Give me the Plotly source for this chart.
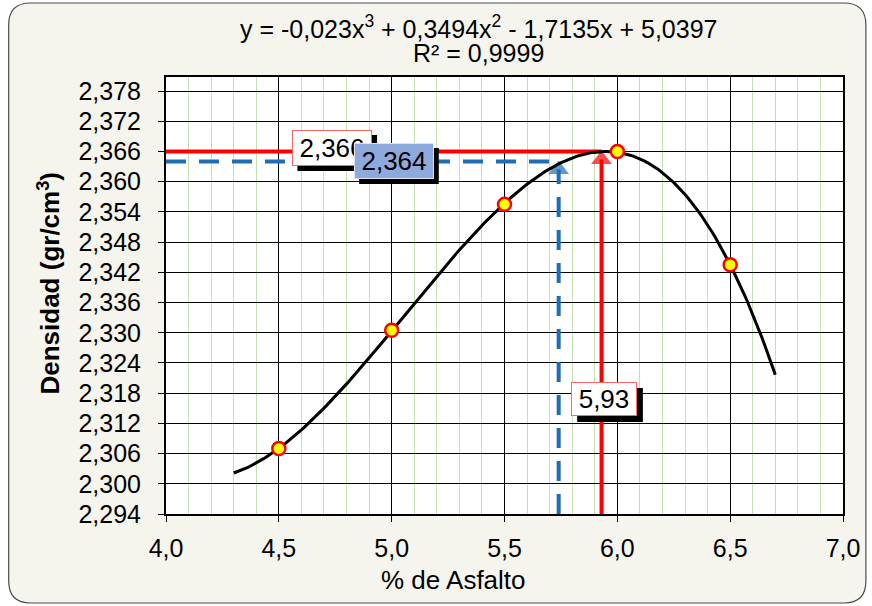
import numpy as np
import plotly.graph_objects as go

# Ensayo Marshall: densidad vs contenido de asfalto
asfalto = [4.5, 5.0, 5.5, 6.0, 6.5]
densidad = [2.307, 2.3305, 2.3555, 2.366, 2.3435]

asfalto_optimo = 5.93      # % de asfalto a densidad máxima
densidad_max = 2.366       # densidad máxima
densidad_ref = 2.364       # densidad de referencia
asfalto_ref = 5.74         # % de asfalto correspondiente

x_ticks = [4.0, 4.5, 5.0, 5.5, 6.0, 6.5, 7.0]
y_ticks = [2.294, 2.300, 2.306, 2.312, 2.318, 2.324, 2.330, 2.336,
           2.342, 2.348, 2.354, 2.360, 2.366, 2.372, 2.378]

X_MIN, X_MAX = 4.0, 7.0
Y_MIN, Y_MAX = 2.294, 2.3808

W, H = 872, 606
ML, MR, MT, MB = 166, 26, 77, 92
PW, PH = W - ML - MR, H - MT - MB


def px(xp):
    return (xp - ML) / PW


def py(yp):
    return (H - MB - yp) / PH


def coma(v, d):
    return f"{v:.{d}f}".replace(".", ",")


# Línea de tendencia polinómica de grado 3
coef = np.polyfit(asfalto, densidad, 3)
xt = np.linspace(4.3, 6.7, 200)
yt = np.polyval(coef, xt)

RED = "#FF0000"
BLUE = "#1F6DB5"
FONT = "Liberation Sans, Arial, sans-serif"
FS = 25

fig = go.Figure()

# Guías horizontales: roja (densidad máxima) y azul (referencia)
fig.add_trace(go.Scatter(x=[X_MIN, asfalto_optimo], y=[densidad_max, densidad_max],
                         mode="lines", line=dict(color=RED, width=4), hoverinfo="skip"))
fig.add_trace(go.Scatter(x=[X_MIN, asfalto_ref - 0.02], y=[densidad_ref, densidad_ref],
                         mode="lines", line=dict(color=BLUE, width=4, dash="20px,13px"),
                         hoverinfo="skip"))

# Guías verticales con punta de flecha
fig.add_trace(go.Scatter(x=[asfalto_ref, asfalto_ref], y=[Y_MIN, densidad_ref],
                         mode="lines+markers",
                         line=dict(color=BLUE, width=4, dash="20px,13px"),
                         marker=dict(symbol="triangle-up", size=[0, 18], angleref="previous",
                                     standoff=8, color=BLUE, line=dict(width=0)),
                         hoverinfo="skip"))
fig.add_trace(go.Scatter(x=[asfalto_optimo, asfalto_optimo], y=[Y_MIN, densidad_max],
                         mode="lines+markers",
                         line=dict(color=RED, width=4),
                         marker=dict(symbol="triangle-up", size=[0, 18], angleref="previous",
                                     standoff=8, color=RED, line=dict(width=0)),
                         hoverinfo="skip"))

# Curva de ajuste
fig.add_trace(go.Scatter(x=xt, y=yt, mode="lines",
                         line=dict(color="black", width=3), hoverinfo="skip"))

# Puntos del ensayo
fig.add_trace(go.Scatter(x=asfalto, y=densidad, mode="markers",
                         marker=dict(symbol="circle", size=13, color="#FFFF00",
                                     line=dict(color=RED, width=2.5))))

annotations = []
shapes = []


def texto(text, cx, cy, size, **kw):
    annotations.append(dict(x=px(cx), y=py(cy), xref="paper", yref="paper",
                            xanchor="center", yanchor="middle", text=text,
                            showarrow=False,
                            font=dict(family=FONT, size=size, color="black"), **kw))


def etiqueta(text, cx, cy, w, h, bg, border, sx=6, sy=6):
    # recuadro con sombra
    x0, x1 = cx - w / 2 + sx, cx + w / 2 + sx
    y0, y1 = cy - h / 2 + sy, cy + h / 2 + sy
    annotations.append(dict(x=px(cx), y=py(cy), xref="paper", yref="paper",
                            xanchor="center", yanchor="middle", text=text,
                            showarrow=False, width=w - 2, height=h - 2,
                            font=dict(family=FONT, size=26, color="black"),
                            bgcolor=bg, bordercolor=border, borderwidth=1, borderpad=0))
    return dict(type="rect", x0=px(x0), x1=px(x1), y0=py(y1), y1=py(y0),
                xref="paper", yref="paper", layer="above",
                fillcolor="black", line=dict(width=0))


# Marco redondeado del gráfico
L, R, T, B, r = 8, 869, 3, 603, 22
path = (f"M {px(L + r)} {py(T)} L {px(R - r)} {py(T)} Q {px(R)} {py(T)} {px(R)} {py(T + r)} "
        f"L {px(R)} {py(B - r)} Q {px(R)} {py(B)} {px(R - r)} {py(B)} "
        f"L {px(L + r)} {py(B)} Q {px(L)} {py(B)} {px(L)} {py(B - r)} "
        f"L {px(L)} {py(T + r)} Q {px(L)} {py(T)} {px(L + r)} {py(T)} Z")
shapes.append(dict(type="path", path=path, xref="paper", yref="paper", layer="below",
                   fillcolor="#F5F5EE", line=dict(color="#4A4A4A", width=1.2)))
shapes.append(dict(type="rect", x0=0, x1=1, y0=0, y1=1, xref="paper", yref="paper",
                   layer="below", fillcolor="white", line=dict(width=0)))

shapes.append(etiqueta(coma(densidad_max, 3), 333, 148, 80, 36, "white", "#FF6666", 5, 5))
shapes.append(etiqueta(coma(densidad_ref, 3), 395, 161, 80, 36, "#8EA9DB", "#DDE4F0", 5, 5))
shapes.append(etiqueta(coma(asfalto_optimo, 2), 606, 399, 66, 34, "white", "#FF6666", 6, 6))

# Ecuación de la tendencia
texto("y = -0,023x<sup>3</sup> + 0,3494x<sup>2</sup> - 1,7135x + 5,0397", 480, 27, FS)
texto("R² = 0,9999", 480, 53, FS)

# Títulos de ejes
texto("% de Asfalto", 455, 580, 26)
texto("<b>Densidad (gr/cm<sup>3</sup>)</b>", 48, 283, 26, textangle=-90)

fig.update_layout(
    width=W, height=H,
    margin=dict(l=ML, r=MR, t=MT, b=MB),
    paper_bgcolor="white",
    plot_bgcolor="white",
    separators=",.",
    showlegend=False,
    font=dict(family=FONT, size=FS, color="black"),
    annotations=annotations,
    shapes=shapes,
    xaxis=dict(range=[X_MIN, X_MAX], tickvals=x_ticks, tickformat=".1f",
               showgrid=True, gridcolor="black", gridwidth=1,
               minor=dict(dtick=0.1, showgrid=True, gridcolor="#C6E0B4", gridwidth=1,
                          ticks=""),
               ticks="outside", ticklen=6, tickcolor="black", ticklabelstandoff=5,
               showline=True, linecolor="black", linewidth=2, mirror=True,
               zeroline=False, tickfont=dict(family=FONT, size=FS)),
    yaxis=dict(range=[Y_MIN, Y_MAX], tickvals=y_ticks, tickformat=".3f",
               showgrid=True, gridcolor="black", gridwidth=1,
               ticks="outside", ticklen=6, tickcolor="black", ticklabelstandoff=12,
               showline=True, linecolor="black", linewidth=2, mirror=True,
               zeroline=False, tickfont=dict(family=FONT, size=FS)),
)

fig.write_html("out.html")
